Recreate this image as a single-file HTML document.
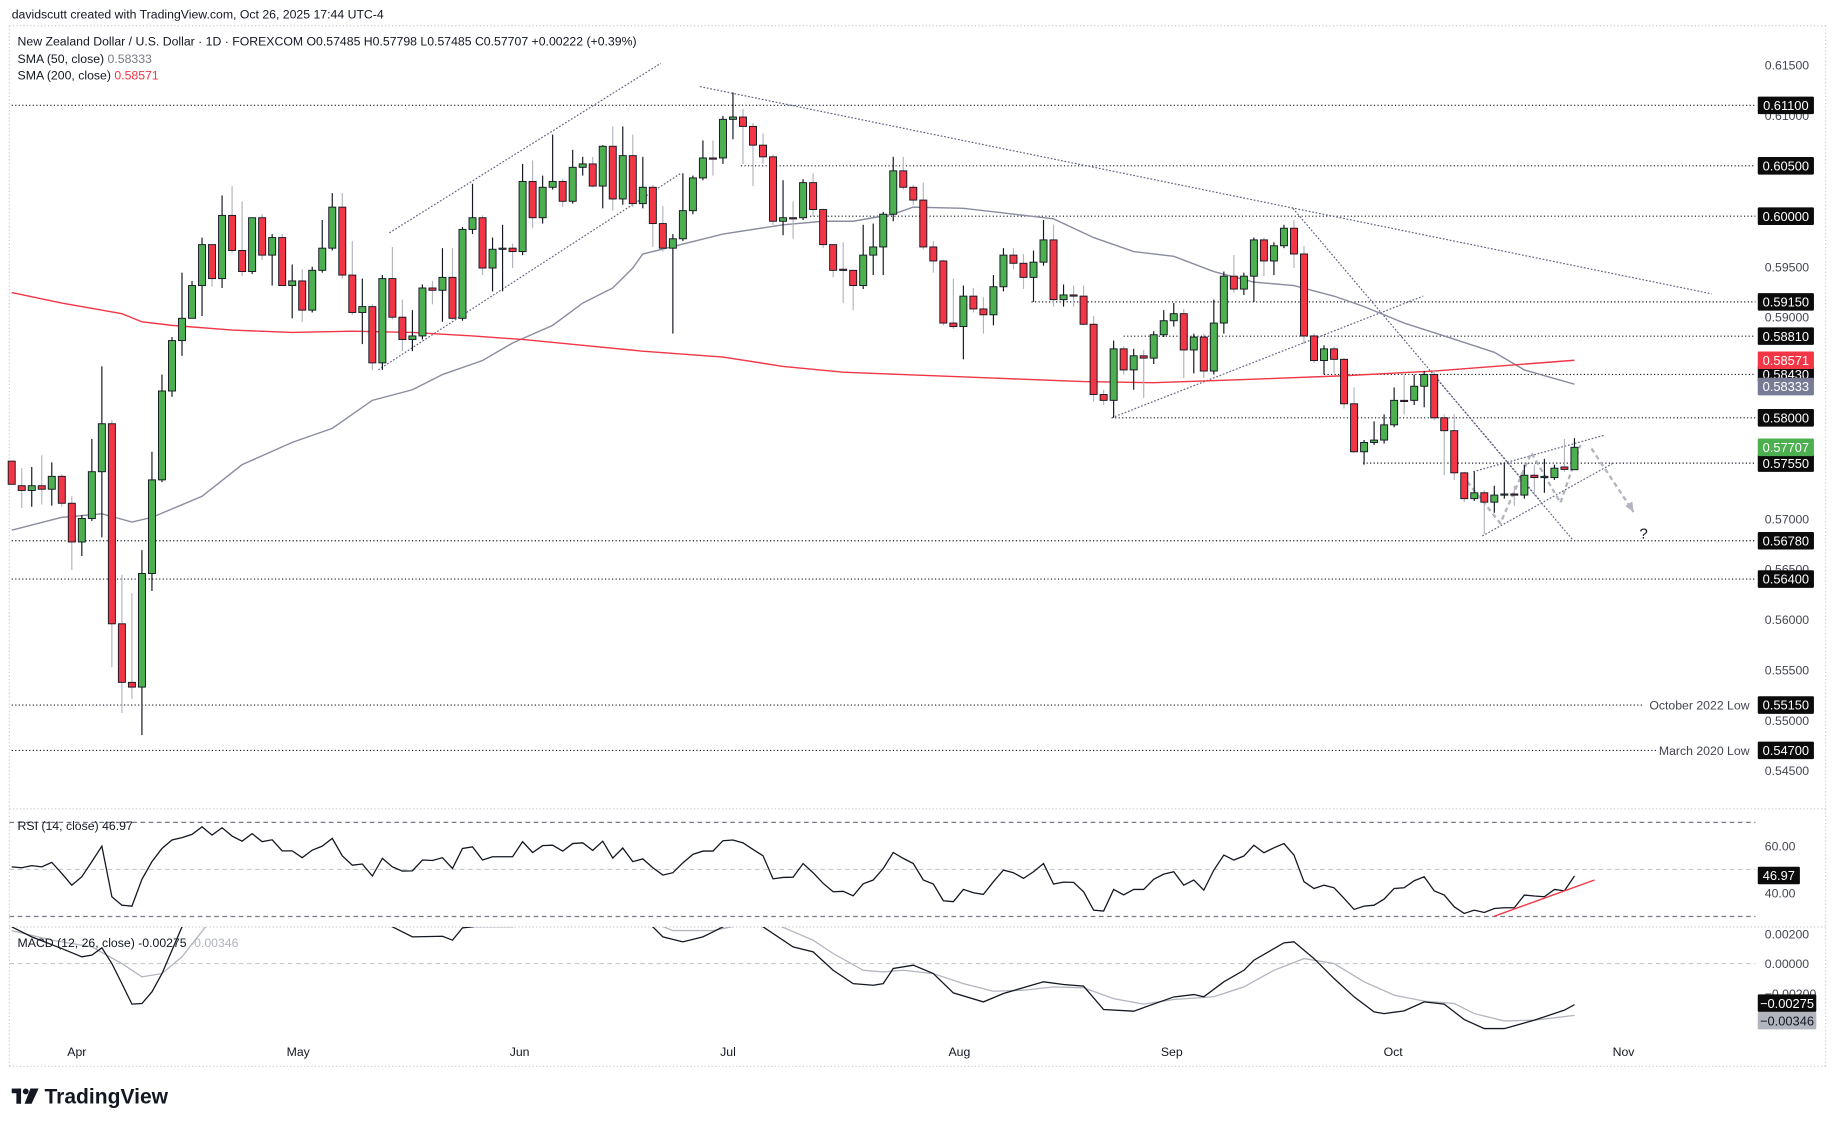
<!DOCTYPE html>
<html><head><meta charset="utf-8"><title>NZDUSD chart</title>
<style>
html,body{margin:0;padding:0;background:#fff;}
svg{display:block;}
text{font-family:"Liberation Sans",sans-serif;}
</style></head>
<body>
<svg id="chart" xmlns="http://www.w3.org/2000/svg" width="1835" height="1126" viewBox="0 0 1568 962" preserveAspectRatio="none">
<defs>
<clipPath id="macdClip"><rect x="8" y="792" width="1494" height="119"/></clipPath>
<clipPath id="priceClip"><rect x="8" y="22" width="1494" height="668"/></clipPath>
</defs>
<rect x="0" y="0" width="1568" height="962" fill="#fff"/>
<text x="10" y="16" font-size="10.5" fill="#131722">davidscutt created with TradingView.com, Oct 26, 2025 17:44 UTC-4</text>
<g stroke="#c8cad0" stroke-dasharray="1,2" fill="none">
<line x1="8" y1="22" x2="1560" y2="22"/><line x1="8" y1="22" x2="8" y2="911"/>
<line x1="1560" y1="22" x2="1560" y2="911"/><line x1="8" y1="911" x2="1560" y2="911"/>
<line x1="8" y1="691" x2="1560" y2="691"/><line x1="8" y1="792" x2="1560" y2="792"/>
</g>
<g id="levels"></g>
<g id="drawings"></g>
<g id="smas" clip-path="url(#priceClip)"></g>
<g id="candles"></g>
<g id="rsi"></g>
<g id="macd"></g>
<g id="axis"></g>
<g id="timeaxis"></g>
<g font-size="10.5" fill="#131722">
<text x="15" y="39">New Zealand Dollar / U.S. Dollar · 1D · FOREXCOM  O0.57485  H0.57798  L0.57485  C0.57707  +0.00222 (+0.39%)</text>
<text x="15" y="54">SMA (50, close) <tspan fill="#787b86">0.58333</tspan></text>
<text x="15" y="68">SMA (200, close) <tspan fill="#f23645">0.58571</tspan></text>
<text x="15" y="709">RSI (14, close) <tspan>46.97</tspan></text>
<text x="15" y="809">MACD (12, 26, close) -0.00275 <tspan fill="#b2b5be">-0.00346</tspan></text>
</g>
<g>
<rect x="10" y="930" width="8" height="4" fill="#131722"/><rect x="14" y="930" width="4" height="13" fill="#131722"/>
<circle cx="22" cy="932.5" r="2.5" fill="#131722"/><polygon points="26,930 33,930 27,943 21,943" fill="#131722"/>
<text x="38" y="943" font-size="18" font-weight="bold" fill="#131722">TradingView</text>
</g>
</svg>
<script>
const opens=[.5757,.57326,.57279,.57326,.57291,.57419,.57152,.56768,.57001,.57465,.57941,.55956,.55375,.55328,.56455,.57384,.58266,.58766,.58987,.59312,.59718,.59381,.60008,.59660,.59451,.59985,.59614,.59788,.59312,.59358,.59068,.59463,.59683,.60090,.59416,.59045,.59103,.58545,.59381,.58998,.58777,.58812,.59288,.59265,.59393,.58987,.59869,.59985,.59486,.59672,.59683,.59649,.60345,.59985,.60287,.60345,.60148,.60485,.60519,.60299,.60694,.60171,.60601,.60125,.60287,.59927,.59683,.59776,.60055,.60380,.60578,.60578,.60961,.60984,.60891,.60705,.60589,.59950,.59985,.59985,.60333,.60066,.59718,.59474,.59463,.59312,.59614,.59695,.60020,.60450,.60287,.60160,.59695,.59556,.58940,.58905,.59207,.59080,.59022,.59300,.59614,.59533,.59393,.59544,.59765,.59172,.59219,.59207,.58928,.58231,.58173,.58684,.58475,.58615,.58592,.58824,.58963,.59033,.58673,.58801,.58464,.58940,.59405,.59277,.59405,.59765,.59556,.59707,.59881,.59625,.58812,.58568,.58684,.58580,.58139,.57663,.57755,.57779,.57930,.58173,.58173,.58313,.58429,.58000,.57872,.57454,.57198,.57256,.57163,.57233,.57244,.57233,.57430,.57407,.57407,.57512,.57485];
const closes=[.5734,.57279,.57326,.57291,.57419,.57152,.56768,.57001,.57465,.57941,.55956,.55375,.55328,.56455,.57384,.58266,.58766,.58987,.59312,.59718,.59381,.60008,.59660,.59451,.59985,.59614,.59788,.59312,.59358,.59068,.59463,.59683,.60090,.59416,.59045,.59103,.58545,.59381,.58998,.58777,.58812,.59288,.59265,.59393,.58987,.59869,.59985,.59486,.59672,.59683,.59649,.60345,.59985,.60287,.60345,.60148,.60485,.60519,.60299,.60694,.60171,.60601,.60125,.60287,.59927,.59683,.59776,.60055,.60380,.60578,.60566,.60961,.60984,.60891,.60705,.60589,.59950,.59985,.59974,.60333,.60066,.59718,.59463,.59463,.59312,.59614,.59695,.60020,.60450,.60287,.60160,.59695,.59556,.58940,.58905,.59207,.59080,.59022,.59300,.59614,.59533,.59393,.59544,.59765,.59172,.59219,.59207,.58928,.58231,.58173,.58684,.58475,.58615,.58592,.58824,.58963,.59033,.58673,.58801,.58464,.58940,.59405,.59277,.59405,.59765,.59556,.59707,.59881,.59625,.58812,.58568,.58684,.58580,.58139,.57663,.57755,.57779,.57930,.58173,.58162,.58313,.58429,.58000,.57872,.57454,.57198,.57256,.57163,.57233,.57244,.57233,.57430,.57407,.57419,.57500,.57488,.57707];
const highs=[.5757,.575,.57512,.57628,.57558,.57442,.57221,.57035,.5779,.5851,.57976,.56443,.56258,.56687,.57663,.58429,.58801,.5944,.59358,.59788,.59718,.60206,.60299,.60148,.59985,.6002,.59823,.59823,.59521,.59474,.59498,.59962,.60229,.60229,.59753,.59381,.59126,.59416,.59695,.59172,.59068,.59323,.59358,.59683,.59683,.59892,.60322,.60008,.59788,.59915,.5973,.60519,.60554,.60403,.6081,.60368,.60659,.60589,.60589,.60705,.60891,.60891,.6081,.60589,.6031,.60101,.59823,.60426,.60403,.60752,.60752,.60996,.61228,.61065,.60926,.60822,.60612,.60357,.60148,.60368,.60426,.60078,.59718,.59741,.59463,.59915,.59927,.60043,.60589,.60589,.6031,.60334,.59753,.59567,.59381,.59312,.59288,.59195,.59416,.59683,.59683,.59625,.5966,.59962,.59915,.59323,.59312,.59312,.5901,.58278,.58766,.58708,.58684,.58673,.58859,.59068,.59138,.5908,.58835,.58835,.59172,.59451,.59614,.5944,.59788,.59788,.59741,.59915,.59962,.59707,.58835,.58719,.58708,.58592,.58301,.57779,.57965,.58034,.58301,.58429,.58429,.58464,.58464,.58034,.58034,.57465,.57465,.57279,.57326,.57558,.57326,.57535,.57535,.57593,.57535,.5779,.57798];
const lows=[.5734,.57105,.57117,.5714,.57128,.57117,.56489,.56629,.56977,.56814,.55526,.55072,.55212,.54852,.56281,.57361,.58208,.58615,.58987,.5901,.593,.59288,.59637,.59405,.59428,.59567,.59312,.59312,.58987,.58952,.59045,.5944,.5966,.59381,.59022,.58731,.58475,.58475,.58975,.58661,.58661,.58777,.59126,.58952,.58975,.58963,.59823,.59416,.59254,.59254,.59486,.59614,.59881,.59927,.60264,.6009,.60125,.60403,.60287,.60078,.60055,.60113,.6009,.60078,.59695,.59649,.58835,.59753,.6002,.60357,.60403,.60519,.60763,.60519,.60299,.60519,.59915,.59811,.59776,.59962,.59997,.59683,.59393,.59138,.59068,.59277,.59416,.59416,.5995,.60264,.60113,.59672,.5944,.58917,.58882,.5858,.59045,.58835,.58917,.59254,.59474,.59277,.59149,.59509,.59103,.59103,.59103,.58917,.58162,.58127,.58,.58429,.58278,.58197,.58534,.58801,.58905,.58394,.5844,.58394,.58429,.58835,.59242,.59219,.59149,.59405,.59416,.59683,.59486,.58731,.58545,.58429,.5844,.58092,.57651,.57535,.57732,.57744,.57907,.58034,.58127,.58104,.57976,.5743,.57384,.57163,.57175,.56849,.57058,.57198,.57128,.57198,.57233,.57256,.57384,.57465,.57485];
const sma50Idx=[0,5,9,12,14,19,23,28,32,36,40,43,47,50,54,57,60,62,63,71,77,81,84,88,90,95,99,104,108,112,116,120,124,128,132,135,139,143,148,151,156];
const sma50Val=[.56885,.57012,.57047,.56966,.57012,.57221,.57535,.57756,.57895,.58173,.58278,.58429,.58568,.58742,.58917,.59138,.59288,.59486,.59625,.59823,.59915,.5995,.5995,.6002,.6009,.60078,.60032,.59974,.59788,.59649,.59602,.59451,.59346,.59312,.59207,.59103,.5894,.58812,.5865,.58475,.58333];
const sma200Idx=[0,5,11,13,16,22,28,34,40,46,51,57,63,71,77,83,89,98,107,114,124,133,142,156];
const sma200Val=[.59242,.59138,.59033,.58952,.58917,.5887,.58847,.58859,.58847,.58812,.58777,.58719,.58661,.58603,.5851,.58452,.58429,.58394,.58359,.58348,.58383,.58417,.58464,.58571];
const rsiVals=[51.1,50.7,51.6,51.1,53.0,48.3,43.3,46.9,53.3,59.9,38.4,34.8,34.4,45.8,53.3,58.9,62.5,63.5,64.9,68.1,64.6,67.7,64.2,62.0,65.2,61.8,62.6,57.9,57.9,55.0,58.2,59.9,63.2,55.8,51.8,52.3,47.2,54.7,51.1,49.3,49.4,54.0,53.8,55.0,50.4,58.9,59.6,54.0,55.4,55.4,55.4,61.8,57.2,60.1,60.3,57.8,61.0,61.3,58.1,62.0,54.8,59.1,53.3,54.5,50.7,47.6,48.6,52.8,56.4,57.8,57.8,62.2,62.5,61.3,58.5,55.8,46.0,46.6,46.7,52.5,48.6,44.1,40.5,40.7,38.8,43.9,45.5,50.4,57.2,54.7,52.5,45.5,43.8,36.7,36.3,41.5,40.1,39.4,44.8,49.7,48.6,46.2,49.0,52.5,43.8,44.6,44.5,40.5,32.7,32.3,41.5,39.2,41.5,41.5,45.8,48.0,49.0,43.3,45.5,41.2,49.7,56.1,54.0,55.7,60.3,57.1,59.2,61.0,56.1,44.8,41.9,43.3,42.2,37.7,33.0,34.4,34.8,37.4,41.9,42.2,45.2,46.9,40.9,39.1,34.1,31.3,32.7,31.7,33.4,33.7,33.7,39.1,38.7,38.4,41.5,40.9,47.2];
const macdIdx=[0,2,5,7,8,9,10,11,12,13,14,15,16,17,20,25,30,35,38,40,43,44,45,46,50,55,60,64,65,67,69,70,71,73,75,78,80,82,84,86,87,88,90,92,94,97,99,103,105,107,109,112,116,118,119,121,123,124,127,128,130,132,134,136,137,139,141,143,145,147,149,152,155,156];
const macdVal=[.00245,.00178,.0010,.00045,.00056,.00105,0,-.00134,-.00271,-.00267,-.00189,-.00067,.00089,.00245,.0040,.0050,.0045,.0032,.00245,.00178,.00182,.00156,.00238,.00245,.0033,.0040,.0036,.00245,.00178,.00145,.00178,.00211,.00245,.0030,.00245,.00111,.00078,-.00045,-.00134,-.00145,-.00134,-.00033,-.00011,-.00067,-.00196,-.00256,-.002,-.00122,-.0014,-.00151,-.00307,-.00318,-.00223,-.00207,-.00222,-.00122,-.00045,.00022,.00138,.00145,.00033,-.001,-.00222,-.00323,-.00334,-.00316,-.00256,-.00271,-.00374,-.00434,-.00434,-.00378,-.00311,-.00275];
const sigIdx=[0,4,8,11,13,15,17,20,25,30,35,40,43,46,50,53,58,63,66,70,73,76,80,82,85,87,89,92,95,98,101,104,107,110,113,116,120,123,126,129,132,135,138,141,144,146,149,152,156];
const sigVal=[.0022,.00156,.00111,0,-.00089,-.00067,.00045,.0030,.0040,.0042,.0035,.0027,.00255,.00245,.00245,.0028,.0034,.0030,.0022,.0022,.0026,.0027,.00156,.00067,-.00045,-.00056,-.00045,-.00067,-.00134,-.00185,-.00178,-.00156,-.00162,-.00234,-.00271,-.0024,-.00222,-.00156,-.00045,.00033,0,-.00122,-.00211,-.00251,-.00267,-.00334,-.00383,-.00378,-.00346];
const priceTicks=[0.615,0.61,0.595,0.59,0.57,0.565,0.56,0.555,0.55,0.545];
const levelPrices=[0.611,0.605,0.6,0.5915,0.5881,0.5843,0.58,0.5755,0.5678,0.564,0.5515,0.547];
const levelStart=[0,72.8,79.7,101.8,111,131,109.8,134.9,0,0,0,0];
const levelLabels=["0.61100","0.60500","0.60000","0.59150","0.58810","0.58430","0.58000","0.57550","0.56780","0.56400","0.55150","0.54700"];
const monthLabels=["Apr","May","Jun","Jul","Aug","Sep","Oct","Nov"];
const monthIdx=[6.5,28.6,50.7,71.5,94.6,115.8,137.9,160.9];
const rsiTicks=[60,40];
const macdTicks=[0.002,0,-0.002];
const macdTickLabels=["0.00200","0.00000","\u22120.00200"];

const NS="http://www.w3.org/2000/svg";
function xI(i){return 10+i*8.56;}
function yP(p){return 90+(0.611-p)*8611;}
function yR(v){return 742.8-(v-50)*2.01;}
function yM(v){return 823.2-v*12800;}
function mk(tag,attrs,parent){const e=document.createElementNS(NS,tag);for(const k in attrs)e.setAttribute(k,attrs[k]);parent.appendChild(e);return e;}
function tag(parent,x,y,w,label,bg,fg){
  const g=mk('g',{},parent);
  
  
  mk('rect',{x:x,y:y-7.5,width:w,height:15,fill:bg,rx:1},g);
  const t=mk('text',{x:x+w/2,y:y+4,'font-size':11,fill:fg,'text-anchor':'middle'},g);t.textContent=label;
}

const lv=document.getElementById('levels');
levelPrices.forEach((p,k)=>{
  let x2=1500;
  if(k===10)x2=1405; if(k===11)x2=1416;
  const l=mk('line',{x1:Math.max(8,xI(levelStart[k])),x2:x2,y1:yP(p),y2:yP(p),stroke:'#131722','stroke-dasharray':'1,2','stroke-width':1},lv);
  
  
});
const t1=mk('text',{x:1495,y:yP(0.5515)+4,'font-size':10.5,fill:'#434651','text-anchor':'end'},lv);t1.textContent='October 2022 Low';


const t2=mk('text',{x:1495,y:yP(0.547)+4,'font-size':10.5,fill:'#434651','text-anchor':'end'},lv);t2.textContent='March 2020 Low';



const dr=document.getElementById('drawings');
const trendLines=[[37.7,.59835,64.8,.61517],[36.6,.58476,66.8,.60426],[68.7,.61286,169.7,.5923],[127.9,.60078,152.6,.57175],[142.1,.58406,155.8,.56792],[109.8,.58,140.9,.59207],[145.9,.57465,158.9,.57825],[146.8,.56827,159.8,.57547]];
trendLines.forEach(t=>{
  const l=mk('line',{x1:xI(t[0]),y1:yP(t[1]),x2:xI(t[2]),y2:yP(t[3]),stroke:'#5d6180','stroke-width':1,'stroke-dasharray':'1.5,1.5'},dr);
  
  
});
const zzIdx=[145.3,148.6,151.7,154.6,156.6];
const zzP=[.57366,.56953,.57653,.57157,.5773];
const zz=mk('polyline',{points:zzIdx.map((v,k)=>xI(v)+','+yP(zzP[k])).join(' '),fill:'none',stroke:'#b2b5be','stroke-width':2,'stroke-dasharray':'4,3'},dr);


const ar=mk('line',{x1:xI(157.7),y1:yP(.57695),x2:xI(161.9),y2:yP(.57066),stroke:'#b2b5be','stroke-width':2,'stroke-dasharray':'4,3'},dr);


const ah=mk('polygon',{points:`${xI(161.9)},${yP(.57066)} ${xI(161.9)-7},${yP(.57066)-5} ${xI(161.9)-1},${yP(.57066)-9}`,fill:'#b2b5be'},dr);


const q=mk('text',{x:xI(162.9),y:yP(.56873)+6,'font-size':13,fill:'#131722','text-anchor':'middle'},dr);q.textContent='?';



const sm=document.getElementById('smas');
const s50=mk('polyline',{points:sma50Idx.map((v,k)=>xI(v)+','+yP(sma50Val[k])).join(' '),fill:'none',stroke:'#8a8ca0','stroke-width':1.2},sm);


const s200=mk('polyline',{points:sma200Idx.map((v,k)=>xI(v)+','+yP(sma200Val[k])).join(' '),fill:'none',stroke:'#f23645','stroke-width':1.2},sm);



const cg=document.getElementById('candles');
opens.forEach((o,i)=>{
  const c=closes[i],h=Math.max(highs[i],o,c),l=Math.min(lows[i],o,c);
  const up=c>=o,x=xI(i);
  const g=mk('g',{},cg);
  
  
  mk('line',{x1:x,x2:x,y1:yP(h),y2:yP(l),stroke:up?'#131722':'#b2b5be','stroke-width':1},g);
  const top=yP(Math.max(o,c)),bot=yP(Math.min(o,c));
  mk('rect',{x:x-3,y:top,width:6,height:Math.max(1,bot-top),fill:up?'#4caf50':'#f23645',stroke:'#131722','stroke-width':0.8},g);
});

const rg=document.getElementById('rsi');
[[70,'#787b86'],[30,'#787b86'],[50,'#c8cad0']].forEach(d=>{
  const l=mk('line',{x1:8,x2:1500,y1:yR(d[0]),y2:yR(d[0]),stroke:d[1],'stroke-dasharray':'4,3','stroke-width':1},rg);
  
  
});
const rl=mk('polyline',{points:rsiVals.map((v,i)=>xI(i)+','+yR(v)).join(' '),fill:'none',stroke:'#131722','stroke-width':1.1},rg);


const rt=mk('line',{x1:xI(148),y1:yR(30.1),x2:xI(158),y2:yR(45.5),stroke:'#f23645','stroke-width':1.2},rg);


rsiTicks.forEach(v=>{const t=mk('text',{x:1508,y:yR(v)+4,'font-size':10.5,fill:'#434651'},rg);t.textContent=v.toFixed(2);
  
  });
tag(rg,1502,748,36,'46.97','#0b0b0b','#fff');

const mg=document.getElementById('macd');
const zl=mk('line',{x1:8,x2:1500,y1:yM(0),y2:yM(0),stroke:'#c8cad0','stroke-dasharray':'4,3'},mg);


const mc=mk('g',{'clip-path':'url(#macdClip)'},mg);
const sl=mk('polyline',{points:sigIdx.map((v,k)=>xI(v)+','+yM(sigVal[k])).join(' '),fill:'none',stroke:'#b2b5be','stroke-width':1.1},mc);


const ml=mk('polyline',{points:macdIdx.map((v,k)=>xI(v)+','+yM(macdVal[k])).join(' '),fill:'none',stroke:'#131722','stroke-width':1.1},mc);


macdTicks.forEach((v,k)=>{const t=mk('text',{x:1508,y:yM(v)+4,'font-size':10.5,fill:'#434651'},mg);t.textContent=macdTickLabels[k];
  
  });
tag(mg,1502,857,50,'\u22120.00275','#0b0b0b','#fff');
tag(mg,1502,872,50,'\u22120.00346','#b2b5be','#131722');

const ax=document.getElementById('axis');
priceTicks.forEach(p=>{const t=mk('text',{x:1508,y:yP(p)+4,'font-size':10.5,fill:'#434651'},ax);t.textContent=p.toFixed(5);
  
  });
levelPrices.forEach((p,k)=>tag(ax,1502,yP(p),48,levelLabels[k],'#0b0b0b','#fff'));
tag(ax,1502,yP(0.58571),48,'0.58571','#f23645','#fff');
tag(ax,1502,yP(0.58333)+2,48,'0.58333','#787b96','#fff');
tag(ax,1502,yP(closes[closes.length-1]),48,closes[closes.length-1].toFixed(5),'#4caf50','#fff');

const ta=document.getElementById('timeaxis');
monthLabels.forEach((m,k)=>{const t=mk('text',{x:xI(monthIdx[k]),y:902,'font-size':10.5,fill:'#131722','text-anchor':'middle'},ta);t.textContent=m;
  
  });
</script>
</body></html>
